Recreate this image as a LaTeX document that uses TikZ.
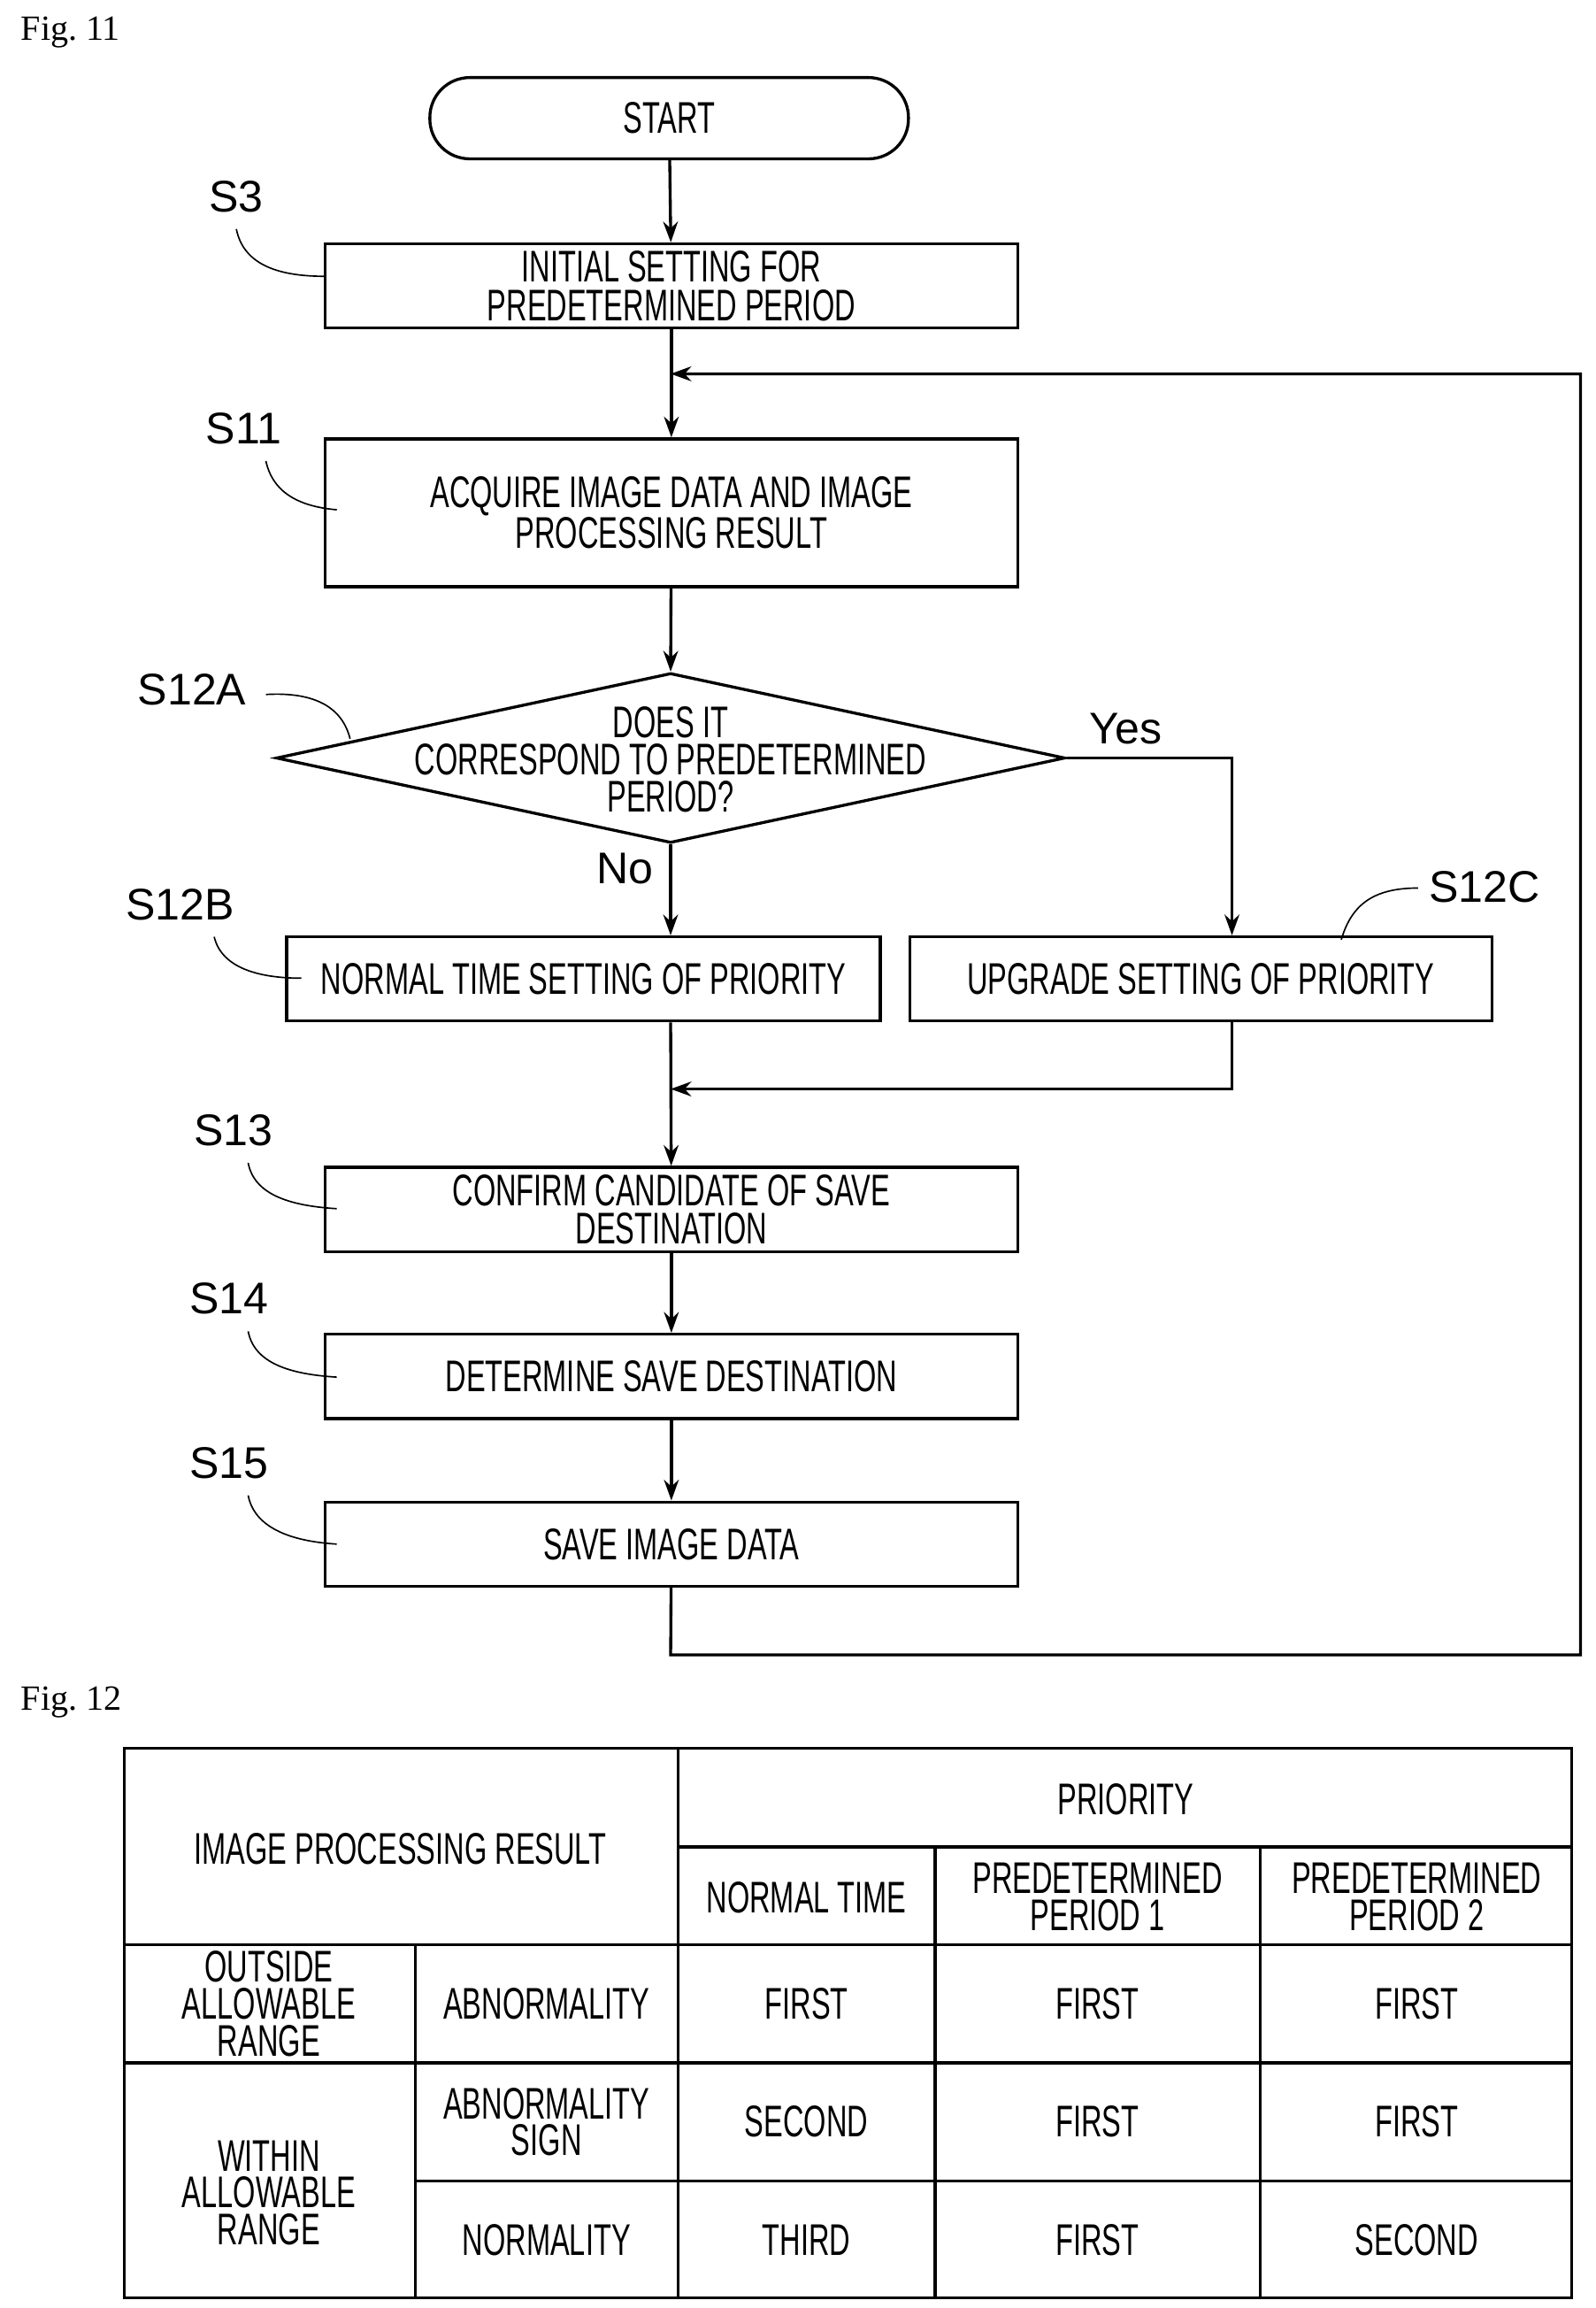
\documentclass[tikz,border=0pt]{standalone}
\usepackage{fontspec}
\usetikzlibrary{shapes.geometric,arrows.meta}
\newfontfamily\cf{Liberation Sans}[FakeStretch=0.65]
\newfontfamily\lf{Liberation Sans}
\newfontfamily\figf{Liberation Serif}
\begin{document}
\begin{tikzpicture}[x=1pt,y=-1pt,line width=2pt,
 box/.style={draw,rectangle,inner sep=0pt,font=\cf\fontsize{30}{26}\selectfont,align=center},
 lab/.style={font=\lf\fontsize{30}{30}\selectfont,inner sep=0pt},
 cell/.style={font=\cf\fontsize{30}{25}\selectfont,align=center,inner sep=0pt},
 arr/.style={-{Stealth[length=14pt,width=10pt]}},
 lead/.style={line width=1pt}]
\useasboundingbox (0,0) rectangle (1080,1562);
\node[font=\figf\fontsize{24}{24}\selectfont,anchor=west] (f11) at (10,22) {Fig.~11};
\node[font=\figf\fontsize{24}{24}\selectfont,anchor=west] (f12) at (10,1152) {Fig.~12};
% flowchart
\node[box,rounded corners=27pt,minimum width=324pt,minimum height=55pt] (start) at (453,80) {START};
\node[box,minimum width=469pt,minimum height=57pt] (s3) at (454.5,193.5) {INITIAL SETTING FOR\\PREDETERMINED PERIOD};
\node[box,minimum width=469pt,minimum height=100pt] (s11) at (454.5,347) {ACQUIRE IMAGE DATA AND IMAGE\\PROCESSING RESULT};
\node[draw,diamond,aspect=4.64,inner sep=0pt,minimum width=534pt,minimum height=115pt] (d) at (454,513) {};
\node[cell] (dt) at (454,514) {DOES IT\\CORRESPOND TO PREDETERMINED\\PERIOD?};
\node[box,minimum width=402pt,minimum height=57pt] (s12b) at (395,662.5) {NORMAL TIME SETTING OF PRIORITY};
\node[box,minimum width=394pt,minimum height=57pt] (s12c) at (813,662.5) {UPGRADE SETTING OF PRIORITY};
\node[box,minimum width=469pt,minimum height=57pt] (s13) at (454.5,818.5) {CONFIRM CANDIDATE OF SAVE\\DESTINATION};
\node[box,minimum width=469pt,minimum height=57pt] (s14) at (454.5,931.5) {DETERMINE SAVE DESTINATION};
\node[box,minimum width=469pt,minimum height=57pt] (s15) at (454.5,1045) {SAVE IMAGE DATA};
\coordinate (j1) at (454,253);
\coordinate (j2) at (454,737);
\coordinate (yc) at (834,513);
\coordinate (l1) at (454,1120);
\coordinate (l2) at (1070,1120);
\coordinate (l3) at (1070,253);
\draw[arr] (start) -- (s3);
\draw[arr] (s3) -- (s11);
\draw[arr] (s11) -- (d.north);
\draw[arr] (d.south) -- (s12b.north -| d.south);
\draw[arr] (d.east) -- (yc) -- (s12c.north -| yc);
\draw[arr] (s12b.south -| j2) -- (s13);
\draw[arr] (s12c.south -| yc) -- (yc |- j2) -- (j2);
\draw[arr] (s13) -- (s14);
\draw[arr] (s14) -- (s15);
\draw[arr] (s15) -- (l1) -- (l2) -- (l3) -- (j1);
\node[lab] (yes) at (762,493) {Yes};
\node[lab] (no) at (423,588) {No};
% step labels
\node[lab] (ls3) at (160,133) {S3};
\node[lab] (ls11) at (165,290) {S11};
\node[lab] (ls12a) at (130,467) {S12A};
\node[lab] (ls12b) at (122,612) {S12B};
\node[lab] (ls12c) at (1005,600) {S12C};
\node[lab] (ls13) at (158,765) {S13};
\node[lab] (ls14) at (155,879) {S14};
\node[lab] (ls15) at (155,990) {S15};
\draw[lead] (160,155) .. controls (165,180) and (190,187) .. (220,187);
\draw[lead] (180,312) .. controls (185,335) and (205,343) .. (228,345);
\draw[lead] (180,470) .. controls (215,468) and (232,480) .. (237,500);
\draw[lead] (145,634) .. controls (150,655) and (175,662) .. (204,662);
\draw[lead] (960,601) .. controls (930,601) and (915,612) .. (908,636);
\draw[lead] (168,787) .. controls (172,808) and (195,816) .. (228,818);
\draw[lead] (168,901) .. controls (172,922) and (195,930) .. (228,932);
\draw[lead] (168,1012) .. controls (172,1033) and (195,1043) .. (228,1045);
% table
\draw (84,1183) rectangle (1064,1555);
\draw (459,1183) -- (459,1555);
\draw (459,1250) -- (1064,1250);
\draw (633,1250) -- (633,1555);
\draw (853,1250) -- (853,1555);
\draw (281,1316) -- (281,1555);
\draw (84,1316) -- (1064,1316);
\draw (84,1396) -- (1064,1396);
\draw (281,1476) -- (1064,1476);
\node[cell] (h1) at (271,1251) {IMAGE PROCESSING RESULT};
\node[cell] (h2) at (762,1218) {PRIORITY};
\node[cell] (h3) at (546,1284) {NORMAL TIME};
\node[cell] (h4) at (743,1284) {PREDETERMINED\\PERIOD 1};
\node[cell] (h5) at (959,1284) {PREDETERMINED\\PERIOD 2};
\node[cell] (r1) at (182,1356) {OUTSIDE\\ALLOWABLE\\RANGE};
\node[cell] (r2) at (182,1484) {WITHIN\\ALLOWABLE\\RANGE};
\node[cell] (a1) at (370,1356) {ABNORMALITY};
\node[cell] (a2) at (370,1436) {ABNORMALITY\\SIGN};
\node[cell] (a3) at (370,1516) {NORMALITY};
\node[cell] (c11) at (546,1356) {FIRST};
\node[cell] (c12) at (743,1356) {FIRST};
\node[cell] (c13) at (959,1356) {FIRST};
\node[cell] (c21) at (546,1436) {SECOND};
\node[cell] (c22) at (743,1436) {FIRST};
\node[cell] (c23) at (959,1436) {FIRST};
\node[cell] (c31) at (546,1516) {THIRD};
\node[cell] (c32) at (743,1516) {FIRST};
\node[cell] (c33) at (959,1516) {SECOND};
\end{tikzpicture}
\end{document}
